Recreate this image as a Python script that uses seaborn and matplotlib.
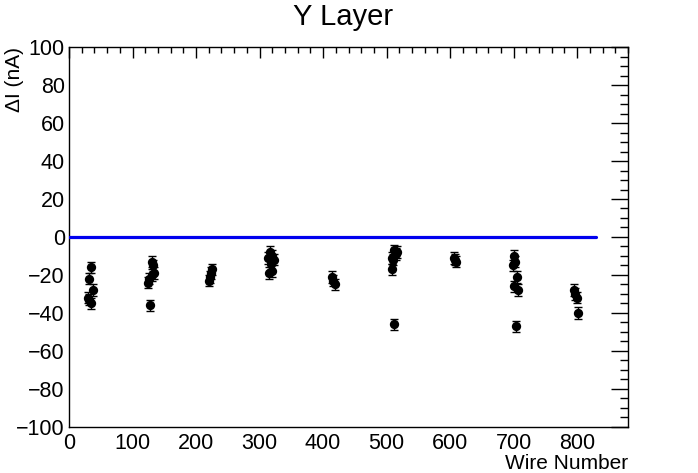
import numpy as np
import pandas as pd
import seaborn as sns
import matplotlib.pyplot as plt
from matplotlib.ticker import MultipleLocator

# wire number and current difference
wire = [35, 31, 37, 30, 32, 34,
        131, 132, 133, 130, 126, 124, 128,
        225, 224, 222, 221,
        316, 319, 314, 322, 318, 320, 315,
        414, 416, 418,
        512, 516, 514, 508, 510, 509, 512,
        606, 608, 610,
        700, 702, 699, 705, 701, 707, 703,
        795, 797, 800, 802]
delta_i = [-16, -22, -28, -32, -33, -35,
           -13, -15, -19, -20, -22, -24, -36,
           -17, -19, -21, -23,
           -8, -10, -11, -12, -14, -18, -19,
           -21, -23, -25,
           -7, -8, -9, -11, -12, -17, -46,
           -11, -12, -13,
           -10, -13, -15, -21, -26, -28, -47,
           -28, -30, -32, -40]
err = [3] * len(wire)

ref_x = [0, 830]
ref_y = [0, 0]

df = pd.DataFrame({"wire": wire, "dI": delta_i, "err": err})

sns.set_style("white")
plt.rcParams['font.family'] = ['Liberation Sans', 'DejaVu Sans']
plt.rcParams['text.color'] = 'black'
plt.rcParams['axes.labelcolor'] = 'black'
plt.rcParams['xtick.color'] = 'black'
plt.rcParams['ytick.color'] = 'black'

fig = plt.figure(figsize=(6.98, 4.73), dpi=100)
ax = fig.add_axes([0.0989, 0.0973, 0.8008, 0.8033])

ax.errorbar(df["wire"], df["dI"], yerr=df["err"], fmt='none', ecolor='black',
            elinewidth=1, capsize=3, capthick=1, zorder=2)
sns.scatterplot(data=df, x="wire", y="dI", color='black', s=45, edgecolor='black',
                linewidth=0, ax=ax, zorder=3)
sns.lineplot(x=ref_x, y=ref_y, color='#0000ee', linewidth=2.3, ax=ax, zorder=4)

ax.set_xlim(0, 880)
ax.set_ylim(-100, 100)
ax.xaxis.set_major_locator(MultipleLocator(100))
ax.xaxis.set_minor_locator(MultipleLocator(20))
ax.yaxis.set_major_locator(MultipleLocator(20))
ax.yaxis.set_minor_locator(MultipleLocator(5))

ax.tick_params(axis='both', which='both', direction='in', top=True, right=True,
               labelsize=15.5, width=1, color='black', labelcolor='black')
ax.tick_params(axis='x', which='major', length=8.2, pad=4)
ax.tick_params(axis='x', which='minor', length=4.1)
ax.tick_params(axis='y', which='major', length=12.1, pad=3)
ax.tick_params(axis='y', which='minor', length=6)

for s in ax.spines.values():
    s.set_color('black')
    s.set_linewidth(1)

fig.text(0.492, 0.965, "Y Layer", fontsize=21, ha='center', va='center')
ax.set_xlabel("Wire Number", fontsize=15, loc='right', labelpad=0)
ax.set_ylabel("ΔI (nA)", fontsize=15)
ax.yaxis.label.set(ha='right', va='center', rotation_mode='anchor')
ax.yaxis.set_label_coords(-0.097, 1.0)

fig.savefig("out.png", dpi=100)
